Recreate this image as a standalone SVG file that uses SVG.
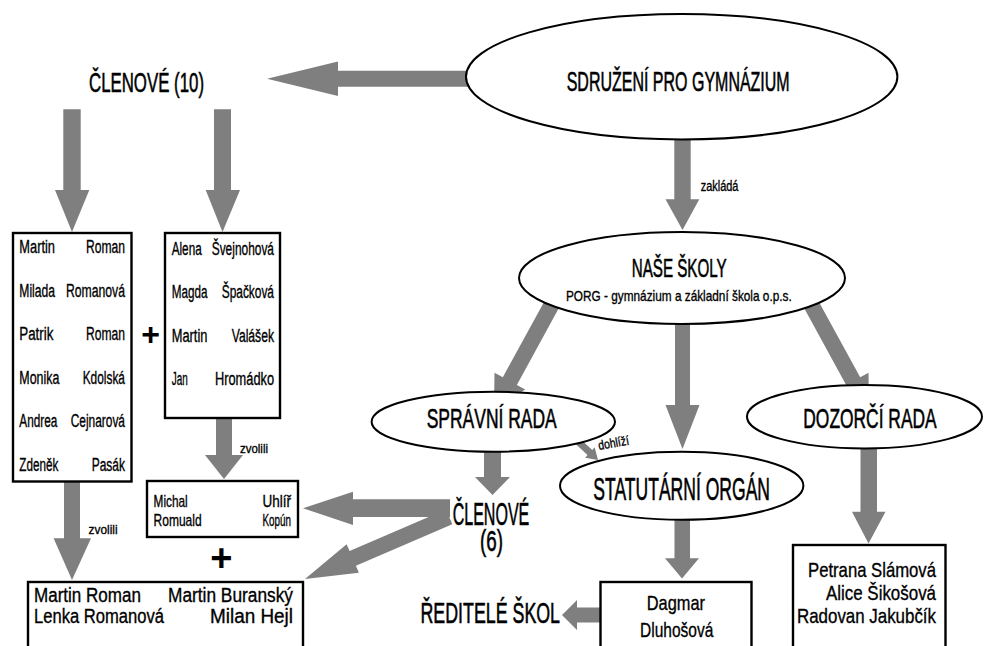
<svg xmlns="http://www.w3.org/2000/svg" width="984" height="646" viewBox="0 0 984 646">
<style>
.arr{fill:#7f7f7f;stroke:none}
.el{fill:#fff;stroke:#000;stroke-width:2}
.box{fill:#fff;stroke:#000;stroke-width:2.4}
text{font-family:"Liberation Sans Narrow","Liberation Sans",Arial,sans-serif;fill:#000;stroke:#000;stroke-width:0.35}
.big{stroke-width:0.6}
.plus{font-family:"Liberation Sans",Arial,sans-serif;font-weight:bold;text-anchor:middle;stroke:none}
</style>
<rect width="984" height="646" fill="#fff"/>
<g id="connectors">
<polygon class="arr" points="470,70.7 338,70.7 338,61.5 267,78.7 338,96 338,86.7 470,86.7"/>
<polygon class="arr" points="63.3,109.3 80.7,109.3 80.7,190 89.3,190 72,232 55,190 63.3,190"/>
<polygon class="arr" points="214,109.3 231,109.3 231,190 240,190 222.5,232 205.7,190 214,190"/>
<polygon class="arr" points="674.3,130 690.7,130 690.7,199.3 699.3,199.3 682.5,230 665.5,199.3 674.3,199.3"/>
<polygon class="arr" points="563.42,299.84 516.86,384.9 525.19,389.46 494,410 494.49,372.66 502.82,377.22 549.38,292.16"/>
<polygon class="arr" points="799.58,299.84 846.14,384.9 837.81,389.46 869,410 868.51,372.66 860.18,377.22 813.62,292.16"/>
<polygon class="arr" points="675,300 690,300 690,405 699.5,405 682.5,449 665.5,405 675,405"/>
<polygon class="arr" points="484,440 501,440 501,477 510,477 492.5,495 475,477 484,477"/>
<polygon class="arr" points="574.37,433.43 592.27,449.93 594.65,447.35 598,460 585.15,457.65 587.53,455.07 569.63,438.57"/>
<polygon class="arr" points="674.5,510 690,510 690,558.3 699,558.3 682,578.5 665,558.3 674.5,558.3"/>
<polygon class="arr" points="601,607.5 577,607.5 577,600 562,615 577,630 577,622.5 601,622.5"/>
<polygon class="arr" points="860.5,440 877,440 877,511.7 885.5,511.7 868.5,543.5 852,511.7 860.5,511.7"/>
<polygon class="arr" points="64,480 80,480 80,538.3 91,538.3 72,580 53.6,538.3 64,538.3"/>
<polygon class="arr" points="216,418 232,418 232,455 243,455 224,479 205,455 216,455"/>
<polygon class="arr" points="450,499.3 353,499.3 353,491.7 303,508.3 353,525 353,517 450,517"/>
<polygon class="arr" points="452.3,524.3 355.9,565.8 358.86,572.69 305,579 346.62,544.23 349.58,551.12 446,509.6"/>
<text x="700.7" y="190.7" font-size="14" textLength="37.7" lengthAdjust="spacingAndGlyphs">zakládá</text>
<text x="240" y="453.3" font-size="13" textLength="28" lengthAdjust="spacingAndGlyphs">zvolili</text>
<text x="88.6" y="534" font-size="13" textLength="29" lengthAdjust="spacingAndGlyphs">zvolili</text>
<text x="599" y="450" font-size="13" textLength="31" lengthAdjust="spacingAndGlyphs" transform="rotate(-10 599 450)">dohlíží</text>
</g>
<g id="clenove10">
<text class="big" x="89" y="91.7" font-size="28" textLength="115" lengthAdjust="spacingAndGlyphs">ČLENOVÉ (10)</text>
</g>
<g id="sdruzeni">
<ellipse class="el" cx="681.7" cy="76.7" rx="215.7" ry="62.7"/>
<text class="big" x="566.7" y="90.7" font-size="28" textLength="223" lengthAdjust="spacingAndGlyphs">SDRUŽENÍ PRO GYMNÁZIUM</text>
</g>
<g id="nase-skoly">
<ellipse class="el" cx="682" cy="278" rx="163" ry="46"/>
<text class="big" x="631.7" y="276.7" font-size="25.5" textLength="95" lengthAdjust="spacingAndGlyphs">NAŠE ŠKOLY</text>
<text x="566" y="300.7" font-size="15" textLength="225.7" lengthAdjust="spacingAndGlyphs">PORG - gymnázium a základní škola o.p.s.</text>
</g>
<g id="spravni-rada">
<ellipse class="el" cx="493.3" cy="421.7" rx="121.7" ry="30"/>
<text class="big" x="426.7" y="428.3" font-size="28" textLength="130" lengthAdjust="spacingAndGlyphs">SPRÁVNÍ RADA</text>
</g>
<g id="dozorci-rada">
<ellipse class="el" cx="864.5" cy="416.7" rx="117.5" ry="31.7"/>
<text class="big" x="803.3" y="428.3" font-size="28" textLength="133.4" lengthAdjust="spacingAndGlyphs">DOZORČÍ RADA</text>
</g>
<g id="statutarni-organ">
<ellipse class="el" cx="681.7" cy="485.8" rx="121.7" ry="34"/>
<text class="big" x="593.3" y="500" font-size="31" textLength="176.7" lengthAdjust="spacingAndGlyphs">STATUTÁRNÍ ORGÁN</text>
</g>
<g id="clenove6">
<text class="big" x="452.7" y="525" font-size="32" textLength="76.6" lengthAdjust="spacingAndGlyphs">ČLENOVÉ</text>
<text class="big" x="480" y="551" font-size="30" textLength="23" lengthAdjust="spacingAndGlyphs">(6)</text>
</g>
<g id="reditele">
<text class="big" x="420.5" y="623.3" font-size="30" textLength="139.5" lengthAdjust="spacingAndGlyphs">ŘEDITELÉ ŠKOL</text>
</g>
<g id="box-clenove-a">
<rect class="box" x="13" y="233" width="118.5" height="248.5"/>
<text x="19.3" y="253.3" font-size="18" textLength="35.7" lengthAdjust="spacingAndGlyphs">Martin</text>
<text x="86" y="253.3" font-size="18" textLength="39" lengthAdjust="spacingAndGlyphs">Roman</text>
<text x="19.3" y="296.8" font-size="18" textLength="35.7" lengthAdjust="spacingAndGlyphs">Milada</text>
<text x="66" y="296.8" font-size="18" textLength="59" lengthAdjust="spacingAndGlyphs">Romanová</text>
<text x="19.3" y="340.3" font-size="18" textLength="34" lengthAdjust="spacingAndGlyphs">Patrik</text>
<text x="86" y="340.3" font-size="18" textLength="39" lengthAdjust="spacingAndGlyphs">Roman</text>
<text x="19.3" y="383.8" font-size="18" textLength="40" lengthAdjust="spacingAndGlyphs">Monika</text>
<text x="82.7" y="383.8" font-size="18" textLength="42.3" lengthAdjust="spacingAndGlyphs">Kdolská</text>
<text x="19.3" y="427.3" font-size="18" textLength="38" lengthAdjust="spacingAndGlyphs">Andrea</text>
<text x="70.7" y="427.3" font-size="18" textLength="54.3" lengthAdjust="spacingAndGlyphs">Cejnarová</text>
<text x="19.3" y="470.8" font-size="18" textLength="39" lengthAdjust="spacingAndGlyphs">Zdeněk</text>
<text x="91.7" y="470.8" font-size="18" textLength="33.3" lengthAdjust="spacingAndGlyphs">Pasák</text>
</g>
<g id="plus1">
<text class="plus" x="150.5" y="345" font-size="32">+</text>
</g>
<g id="box-clenove-b">
<rect class="box" x="165" y="233" width="115" height="185"/>
<text x="171.7" y="255" font-size="18" textLength="30" lengthAdjust="spacingAndGlyphs">Alena</text>
<text x="211.7" y="255" font-size="18" textLength="62.3" lengthAdjust="spacingAndGlyphs">Švejnohová</text>
<text x="171.7" y="298.3" font-size="18" textLength="35.7" lengthAdjust="spacingAndGlyphs">Magda</text>
<text x="221.7" y="298.3" font-size="18" textLength="52.3" lengthAdjust="spacingAndGlyphs">Špačková</text>
<text x="171.7" y="341.7" font-size="18" textLength="35.7" lengthAdjust="spacingAndGlyphs">Martin</text>
<text x="231.7" y="341.7" font-size="18" textLength="42.3" lengthAdjust="spacingAndGlyphs">Valášek</text>
<text x="171.7" y="385" font-size="18" textLength="16" lengthAdjust="spacingAndGlyphs">Jan</text>
<text x="215" y="385" font-size="18" textLength="59" lengthAdjust="spacingAndGlyphs">Hromádko</text>
</g>
<g id="box-zvoleni-b">
<rect class="box" x="147" y="481" width="151" height="56"/>
<text x="153.6" y="507.3" font-size="17" textLength="34" lengthAdjust="spacingAndGlyphs">Michal</text>
<text x="262.5" y="507.3" font-size="17" textLength="28.5" lengthAdjust="spacingAndGlyphs">Uhlíř</text>
<text x="153.6" y="525.7" font-size="17" textLength="48" lengthAdjust="spacingAndGlyphs">Romuald</text>
<text x="262.5" y="525.7" font-size="17" textLength="28.5" lengthAdjust="spacingAndGlyphs">Kopún</text>
</g>
<g id="plus2">
<text class="plus" x="221.3" y="571" font-size="38">+</text>
</g>
<g id="box-zvoleni-a">
<rect class="box" x="28" y="582" width="275" height="80"/>
<text x="34" y="601.7" font-size="20" textLength="107" lengthAdjust="spacingAndGlyphs">Martin Roman</text>
<text x="168" y="601.7" font-size="20" textLength="125" lengthAdjust="spacingAndGlyphs">Martin Buranský</text>
<text x="34" y="622.7" font-size="20" textLength="130" lengthAdjust="spacingAndGlyphs">Lenka Romanová</text>
<text x="210" y="622.7" font-size="20" textLength="83" lengthAdjust="spacingAndGlyphs">Milan Hejl</text>
</g>
<g id="box-dagmar">
<rect class="box" x="600.5" y="582" width="151" height="80"/>
<text x="646.7" y="610" font-size="21" textLength="58.3" lengthAdjust="spacingAndGlyphs">Dagmar</text>
<text x="640" y="636.7" font-size="21" textLength="73.3" lengthAdjust="spacingAndGlyphs">Dluhošová</text>
</g>
<g id="box-dozorci">
<rect class="box" x="793" y="545" width="152.5" height="120"/>
<text x="808" y="576.7" font-size="21" textLength="128" lengthAdjust="spacingAndGlyphs">Petrana Slámová</text>
<text x="826" y="600" font-size="21" textLength="110" lengthAdjust="spacingAndGlyphs">Alice Šikošová</text>
<text x="797" y="623.3" font-size="21" textLength="139" lengthAdjust="spacingAndGlyphs">Radovan Jakubčík</text>
</g>
</svg>
